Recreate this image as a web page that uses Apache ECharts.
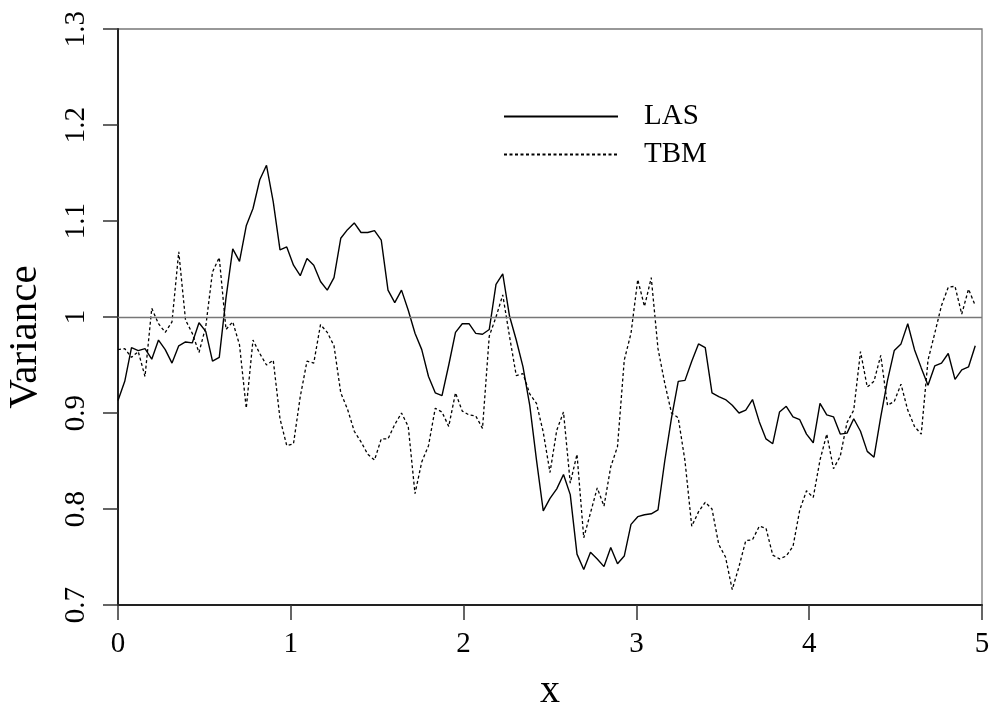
<!DOCTYPE html>
<html><head><meta charset="utf-8">
<script src="https://cdn.jsdelivr.net/npm/echarts@6/dist/echarts.min.js"></script>
<style>html,body{margin:0;padding:0;background:#fff}#c{width:990px;height:704px}</style>
</head><body><div id="c"></div>
<script>
// sample spacing along x (128 samples over [0,5))
const xStep = 5 / 128;
const seriesNames = ['LAS', 'TBM'];
const lasValues = [
  0.913, 0.933, 0.968, 0.965, 0.967, 0.956, 0.976, 0.966, 0.952, 0.970,
  0.974, 0.973, 0.994, 0.985, 0.954, 0.958, 1.020, 1.071, 1.058, 1.095,
  1.113, 1.143, 1.158, 1.120, 1.070, 1.073, 1.054, 1.043, 1.061, 1.054,
  1.037, 1.028, 1.041, 1.082, 1.091, 1.098, 1.088, 1.088, 1.090, 1.080,
  1.028, 1.015, 1.028, 1.007, 0.983, 0.966, 0.938, 0.921, 0.918, 0.950,
  0.984, 0.993, 0.993, 0.983, 0.982, 0.987, 1.034, 1.045, 1.001, 0.976,
  0.948, 0.908, 0.851, 0.798, 0.811, 0.821, 0.836, 0.815, 0.753, 0.737,
  0.755, 0.748, 0.740, 0.760, 0.743, 0.751, 0.784, 0.792, 0.794, 0.795,
  0.799, 0.850, 0.895, 0.933, 0.934, 0.954, 0.972, 0.968, 0.921, 0.917,
  0.914, 0.908, 0.900, 0.903, 0.914, 0.891, 0.873, 0.868, 0.901, 0.907,
  0.896, 0.893, 0.878, 0.869, 0.910, 0.898, 0.896, 0.878, 0.879, 0.894,
  0.881, 0.860, 0.854, 0.896, 0.934, 0.965, 0.972, 0.993, 0.966, 0.947,
  0.929, 0.949, 0.952, 0.962, 0.935, 0.945, 0.948, 0.970
];
const tbmValues = [
  0.966, 0.967, 0.958, 0.964, 0.938, 1.009, 0.993, 0.984, 0.995, 1.068,
  0.997, 0.983, 0.963, 0.990, 1.047, 1.062, 0.987, 0.995, 0.971, 0.905,
  0.976, 0.962, 0.950, 0.955, 0.894, 0.866, 0.868, 0.917, 0.954, 0.952,
  0.992, 0.984, 0.970, 0.921, 0.904, 0.881, 0.870, 0.857, 0.851, 0.873,
  0.873, 0.888, 0.900, 0.886, 0.816, 0.849, 0.866, 0.905, 0.901, 0.886,
  0.921, 0.902, 0.898, 0.897, 0.884, 0.980, 1.000, 1.023, 0.980, 0.939,
  0.941, 0.920, 0.910, 0.880, 0.838, 0.882, 0.901, 0.827, 0.857, 0.770,
  0.796, 0.822, 0.803, 0.844, 0.865, 0.955, 0.983, 1.039, 1.011, 1.041,
  0.967, 0.931, 0.900, 0.895, 0.850, 0.782, 0.797, 0.807, 0.800, 0.763,
  0.750, 0.716, 0.740, 0.767, 0.768, 0.782, 0.780, 0.752, 0.748, 0.751,
  0.761, 0.799, 0.819, 0.812, 0.851, 0.878, 0.842, 0.855, 0.890, 0.903,
  0.964, 0.927, 0.933, 0.960, 0.908, 0.912, 0.930, 0.903, 0.886, 0.878,
  0.955, 0.983, 1.012, 1.031, 1.032, 1.003, 1.029, 1.012
];
const referenceLevel = 1;

const toPairs = vals => vals.map((v, i) => [i * xStep, v]);
const FONT = 'Liberation Serif';

const chart = echarts.init(document.getElementById('c'), null, {renderer: 'canvas'});
chart.setOption({
  animation: false,
  backgroundColor: '#fff',
  grid: {left: 118, right: 8, top: 29, bottom: 99, show: true, containLabel: false,
         outerBoundsMode: 'none',
         borderColor: '#777', borderWidth: 1.3, backgroundColor: 'transparent'},
  legend: {
    data: seriesNames, orient: 'vertical', left: 503, top: 102, padding: 0,
    itemWidth: 114, itemHeight: 29, itemGap: 9, selectedMode: false,
    itemStyle: {opacity: 0, borderWidth: 0},
    textStyle: {fontFamily: FONT, fontSize: 29, color: '#000', padding: [0, 0, 0, 21]}
  },
  xAxis: {
    type: 'value', min: 0, max: 5, interval: 1,
    name: 'x', nameLocation: 'middle', nameGap: 66,
    nameTextStyle: {fontFamily: FONT, fontSize: 40, color: '#000'},
    axisLine: {show: true, onZero: false, lineStyle: {color: '#222', width: 2}},
    axisTick: {show: true, inside: false, length: 15, lineStyle: {color: '#333', width: 1.5}},
    axisLabel: {margin: 25, fontFamily: FONT, fontSize: 29, color: '#000'},
    splitLine: {show: false}
  },
  yAxis: {
    type: 'value', min: 0.7, max: 1.3, interval: 0.1,
    name: 'Variance', nameLocation: 'middle', nameRotate: 90, nameGap: 72,
    nameTextStyle: {fontFamily: FONT, fontSize: 41, color: '#000', padding: [0, 40, 0, 0]},
    axisLine: {show: true, onZero: false, lineStyle: {color: '#222', width: 2}},
    axisTick: {show: true, inside: false, length: 15, lineStyle: {color: '#333', width: 1.5}},
    axisLabel: {rotate: 90, margin: 27, fontFamily: FONT, fontSize: 29, color: '#000'},
    splitLine: {show: false}
  },
  series: [
    {
      name: seriesNames[0], type: 'line', data: toPairs(lasValues),
      symbol: 'none', showSymbol: false, z: 3,
      lineStyle: {color: '#000', width: 1.4},
      itemStyle: {color: '#000'},
      markLine: {
        silent: true, symbol: 'none', label: {show: false},
        lineStyle: {color: '#777', width: 1.3, type: 'solid'},
        data: [{yAxis: referenceLevel}]
      }
    },
    {
      name: seriesNames[1], type: 'line', data: toPairs(tbmValues),
      symbol: 'none', showSymbol: false, z: 2,
      lineStyle: {color: '#000', width: 1.3, type: [3, 2.5]},
      itemStyle: {color: '#000'}
    }
  ]
});
</script></body></html>
